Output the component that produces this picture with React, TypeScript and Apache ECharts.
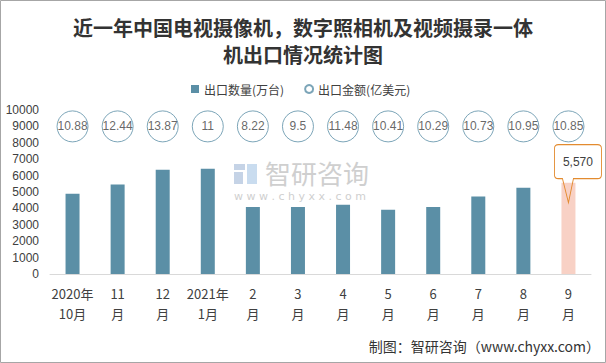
import React, { useEffect, useRef } from "react";
import * as echarts from "echarts";

const categories = ["2020年\n10月", "11\n月", "12\n月", "2021年\n1月", "2\n月", "3\n月", "4\n月", "5\n月", "6\n月", "7\n月", "8\n月", "9\n月"];
const quantity = [4900, 5450, 6350, 6420, 4090, 4090, 4230, 3920, 4090, 4720, 5260, 5570];
const amount = [10.88, 12.44, 13.87, 11, 8.22, 9.5, 11.48, 10.41, 10.29, 10.73, 10.95, 10.85];
const CIRCLE_LEVEL = 9000;
const yMax = 10000;
const yInterval = 1000;

const BAR = "#5b8fa6";
const HIGHLIGHT = "#f8d1c5";
const TXT = "#404040";

export default function App() {
  const ref = useRef<HTMLDivElement>(null);
  useEffect(() => {
    document.body.style.margin = "0";
    const chart = echarts.init(ref.current!, null, { renderer: "svg" });
    const last = quantity.length - 1;
    chart.setOption({
      animation: false,
      backgroundColor: "#fff",
      title: {
        text: "近一年中国电视摄像机，数字照相机及视频摄录一体\n机出口情况统计图",
        left: "center",
        top: 9,
        textStyle: {
          fontFamily: "Noto Sans CJK SC",
          fontWeight: "bold",
          fontSize: 20,
          lineHeight: 27,
          color: "#333",
        },
      },
      legend: {
        left: 186,
        top: 78,
        itemWidth: 8,
        itemHeight: 8,
        itemGap: 20,
        textStyle: { fontFamily: "Noto Sans CJK SC", fontSize: 12, color: TXT },
        data: [
          { name: "出口数量(万台)", icon: "rect" },
          { name: "出口金额(亿美元)", icon: "circle" },
        ],
      },
      grid: { left: 50, right: 15, top: 110, bottom: 89 },
      xAxis: {
        type: "category",
        data: categories,
        axisLine: { lineStyle: { color: "#d9d9d9" } },
        axisTick: { show: false },
        axisLabel: {
          interval: 0,
          margin: 9,
          fontFamily: "Noto Sans CJK SC",
          fontSize: 13,
          lineHeight: 20,
          color: TXT,
        },
      },
      yAxis: {
        type: "value",
        min: 0,
        max: yMax,
        interval: yInterval,
        splitLine: { show: false },
        axisLine: { show: false },
        axisTick: { show: false },
        axisLabel: {
          margin: 11,
          fontFamily: "Liberation Sans",
          fontSize: 12,
          color: TXT,
          formatter: (v: number) => String(v),
        },
      },
      series: [
        {
          name: "出口数量(万台)",
          type: "bar",
          barWidth: 14,
          itemStyle: { color: BAR },
          data: quantity.map((v, i) =>
            i === last ? { value: v, itemStyle: { color: HIGHLIGHT } } : v
          ),
          markPoint: {
            symbol:
              "path://M4,0 H43 Q47,0 47,4 V30 Q47,34 43,34 H19 L14,58 L8,34 H4 Q0,34 0,30 V4 Q0,0 4,0 Z",
            symbolSize: [47, 58],
            symbolOffset: [9.5, -9],
            itemStyle: { color: "rgba(255,255,255,0)", borderColor: "#e38b2f", borderWidth: 1 },
            label: {
              show: true,
              offset: [0, -12],
              fontFamily: "Liberation Sans",
              fontSize: 12,
              color: TXT,
              formatter: (p: any) => Number(p.value).toLocaleString("en-US"),
            },
            data: [{ coord: [last, quantity[last]], value: quantity[last] }],
          },
        },
        {
          name: "出口金额(亿美元)",
          type: "scatter",
          symbol: "circle",
          symbolSize: 31,
          itemStyle: { color: "#fff", borderColor: BAR, borderWidth: 1 },
          label: {
            show: true,
            position: "inside",
            fontFamily: "Liberation Sans",
            fontSize: 12,
            color: TXT,
            formatter: (p: any) => String(amount[p.dataIndex]),
          },
          data: amount.map(() => CIRCLE_LEVEL),
          z: 3,
        },
      ],
      graphic: [
        {
          type: "rect",
          shape: { x: 0.5, y: 0.5, width: 605, height: 362 },
          style: { fill: "none", stroke: "#a6a6a6", lineWidth: 1 },
          silent: true,
        },
        {
          type: "group",
          z: -1,
          silent: true,
          children: [
            { type: "rect", shape: { x: 234, y: 164, width: 11, height: 6 }, style: { fill: "#c5d3e6" } },
            { type: "rect", shape: { x: 234, y: 172, width: 9, height: 12 }, style: { fill: "#c5d3e6" } },
            { type: "rect", shape: { x: 247, y: 164, width: 10, height: 20 }, style: { fill: "#c9dcef" } },
            {
              type: "text",
              x: 265,
              y: 172,
              style: {
                text: "智研咨询",
                font: "26px 'Noto Sans CJK SC'",
                fill: "#cfcfcf",
                textVerticalAlign: "middle",
              },
            },
            {
              type: "text",
              x: 234,
              y: 196,
              style: {
                text: "w w w . c h y x x . c o m",
                font: "11px 'DejaVu Sans'",
                fill: "#cfcfcf",
                textVerticalAlign: "middle",
              },
            },
          ],
        },
        {
          type: "text",
          right: 6,
          top: 339,
          style: {
            text: "制图：智研咨询（www.chyxx.com）",
            font: "14px 'Noto Sans CJK SC'",
            fill: "#333",
          },
        },
      ],
    });
    return () => chart.dispose();
  }, []);
  return <div ref={ref} style={{ width: 606, height: 363 }} />;
}
